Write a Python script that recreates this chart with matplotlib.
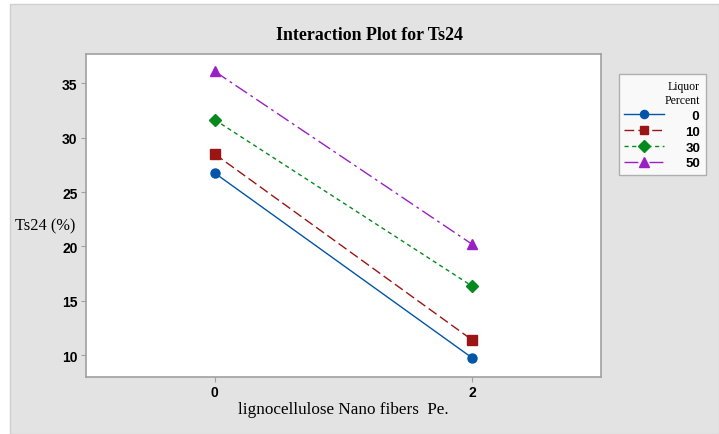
import matplotlib
matplotlib.use("Agg")
import matplotlib.pyplot as plt
from matplotlib.patches import Rectangle

# Data
x_levels = [0, 2]
x_ticklabels = ["0", "2"]
series_labels = ["0", "10", "30", "50"]
ts24_0 = [26.75, 9.75]
ts24_10 = [28.5, 11.4]
ts24_30 = [31.65, 16.35]
ts24_50 = [36.1, 20.2]
y_ticks = [10, 15, 20, 25, 30, 35]

series = [ts24_0, ts24_10, ts24_30, ts24_50]
colors = ["#0055A8", "#9B1515", "#068A1E", "#9A1FC4"]
markers = ["o", "s", "D", "^"]
linestyles = ["-", (0, (7, 3)), (0, (3, 2.5)), (0, (10, 3, 2, 3))]
msizes = [6.5, 6.5, 6.5, 7.5]

BG = "#e3e3e3"
fig = plt.figure(figsize=(7.19, 4.35), dpi=100)
fig.patch.set_facecolor("white")
fig.patches.append(Rectangle((10 / 719, 0), 1 - 10 / 719, 1 - 5 / 435,
                             transform=fig.transFigure, facecolor=BG,
                             edgecolor="#cfcfcf", linewidth=1.0, zorder=-10))

ax = fig.add_axes([86 / 719, 1 - 378 / 435, (601 - 86) / 719, (378 - 55) / 435])
ax.set_facecolor("white")

handles = []
for vals, c, m, ls, ms, lab in zip(series, colors, markers, linestyles, msizes, series_labels):
    h, = ax.plot(x_levels, vals, color=c, marker=m, linestyle=ls, linewidth=1.0,
                 markersize=ms, markeredgecolor=c, label=lab)
    handles.append(h)

ax.set_xlim(-1, 3)
ax.set_ylim(8.0, 37.7)
ax.set_xticks(x_levels)
ax.set_xticklabels(x_ticklabels)
ax.set_yticks(y_ticks)

for s in ax.spines.values():
    s.set_color("#a0a0a0")
    s.set_linewidth(1.2)
ax.tick_params(axis="both", direction="out", length=3.5, width=0.8, color="#a0a0a0",
               labelsize=10, pad=2.5)
for t in ax.get_xticklabels() + ax.get_yticklabels():
    t.set_fontfamily("Liberation Sans")
    t.set_fontweight("bold")

fig.text(369.5 / 719, 1 - 35 / 435, "Interaction Plot for Ts24",
         fontfamily="Liberation Serif", fontweight="bold", fontsize=12.9,
         ha="center", va="center")
ax.set_xlabel("lignocellulose Nano fibers  Pe.", fontfamily="Liberation Serif",
              fontsize=12.3, labelpad=1.5)
ax.set_ylabel("Ts24 (%)", fontfamily="Liberation Serif", fontsize=11.8,
              rotation=0, ha="center", va="center")
ax.yaxis.set_label_coords(-(86 - 45) / 515, 0.47)

leg_labels = ["  0", "10", "30", "50"]
leg = fig.legend(handles, leg_labels, loc="upper right",
                 bbox_to_anchor=(706 / 719, 1 - 75 / 435),
                 title="Liquor\nPercent", alignment="right",
                 prop={"family": "Liberation Sans", "weight": "bold", "size": 9.5},
                 title_fontproperties={"family": "Liberation Serif", "size": 8.5},
                 frameon=True, fancybox=False, edgecolor="#a0a0a0",
                 handlelength=3.0, handletextpad=1.6, labelspacing=0.28,
                 borderpad=0.45, borderaxespad=0, markerscale=0.9)
leg.get_frame().set_linewidth(1.0)
leg.get_frame().set_facecolor("white")
leg.get_title().set_multialignment("right")

fig.savefig("out.png", dpi=100, facecolor=fig.get_facecolor())
